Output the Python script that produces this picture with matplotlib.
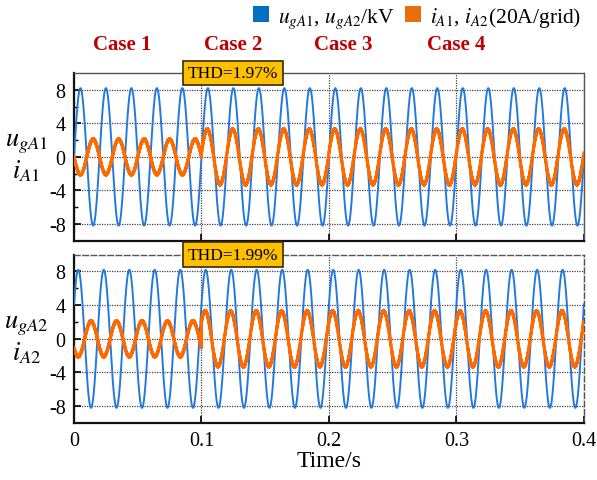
import numpy as np
import matplotlib
matplotlib.use('Agg')
import matplotlib.pyplot as plt
from matplotlib.patches import Patch
from matplotlib.transforms import blended_transform_factory

plt.rcParams['font.family'] = ['Liberation Serif', 'DejaVu Serif']
plt.rcParams['mathtext.fontset'] = 'stix'
plt.rcParams['axes.unicode_minus'] = False

# values
case_edges = [0.0, 0.1, 0.2, 0.3, 0.4]
case_names = ['Case 1', 'Case 2', 'Case 3', 'Case 4']
case_label_x = [0.038, 0.125, 0.211, 0.300]
grid_freq = 50.0
u_amp = 8.2                      # kV
u_phase = [0.0, 30.0]            # deg, phase A1 / A2
i_amp = [2.1, 3.3, 3.3, 3.3]     # per case (20A/grid)
i_shift = [180.0, 8.0, 8.0, 8.0] # deg, current vs voltage per case
ripple_amp = 0.07
ripple_freq = 5000.0
thd_text = ['THD=1.97%', 'THD=1.99%']
thd_x = 0.1247
ylabels = ['$u_{gA1}$\n$i_{A1}$', '$u_{gA2}$\n$i_{A2}$']
xticks = [0, 0.1, 0.2, 0.3, 0.4]
xticklabels = ['0', '0.1', '0.2', '0.3', '0.4']
yticks = [-8, -4, 0, 4, 8]
yticklabels = ['-8', '-4', '0', '4', '8']

blue = '#2479DE'
orange = '#FF6A00'

t = np.linspace(0, 0.4, 24001)
w = 2*np.pi*grid_freq

fig = plt.figure(figsize=(5.97, 4.81), dpi=100)
ax1 = fig.add_axes([0.124, 0.4975, 0.854, 0.3486])
ax2 = fig.add_axes([0.124, 0.1185, 0.854, 0.35])
axes = [ax1, ax2]

for k, ax in enumerate(axes):
    ph = np.deg2rad(u_phase[k])
    u = u_amp*np.sin(w*t + ph)
    cur = np.zeros_like(t)
    for c in range(4):
        m = (t >= case_edges[c]) & (t <= case_edges[c+1])
        cur[m] = i_amp[c]*np.sin(w*t[m] + ph + np.deg2rad(i_shift[c]))
    cur = cur + ripple_amp*np.sin(2*np.pi*ripple_freq*t)

    ax.plot(t, u, color=blue, lw=1.4, zorder=3)
    ax.plot(t, cur, color=orange, lw=2.2, zorder=4)

    ax.set_xlim(0, 0.4)
    ax.set_ylim(-10, 10)
    ax.set_xticks(xticks)
    ax.set_yticks(yticks)
    ax.set_yticklabels(yticklabels)
    ax.set_yticks([-6, -2, 2, 6], minor=True)
    ax.grid(True, which='major', linestyle=(0, (1, 1)), color='#444444', lw=0.9)
    ax.tick_params(direction='in', length=5, width=1.2, labelsize=14.5, pad=6)
    ax.tick_params(which='minor', direction='in', length=3, width=1.0)
    for s in ['left', 'bottom']:
        ax.spines[s].set_linewidth(1.6)
        ax.spines[s].set_color('#111111')
    for s in ['top', 'right']:
        ax.spines[s].set_color('#555555')
        ax.spines[s].set_linewidth(1.0)
        if k == 0:
            ax.spines[s].set_linestyle((0, (1, 1)))
        else:
            ax.spines[s].set_linestyle((0, (4, 2)))

    ax.text(thd_x, 10.0, thd_text[k], ha='center', va='center', fontsize=12.5,
            zorder=10,
            bbox=dict(boxstyle='square,pad=0.25', fc='#FFC000', ec='#3a2a00', lw=1.2))

    fig.text(0.044, 0.5, ylabels[k], ha='center', va='center', fontsize=19,
             linespacing=1.1,
             transform=blended_transform_factory(fig.transFigure, ax.transAxes))

ax1.set_xticklabels([])
ax2.set_xticklabels(xticklabels)
ax2.set_xlabel('Time/s', fontsize=17, labelpad=0)

for name, x in zip(case_names, case_label_x):
    ax1.text(x, 1.173, name, transform=ax1.get_xaxis_transform(), ha='center', va='center',
             fontsize=15, fontweight='bold', color='#C00000')

handles = [Patch(facecolor='#0070C0', edgecolor='none'), Patch(facecolor='#E8700C', edgecolor='none')]
labels = ['$u_{gA1}$, $u_{gA2}$/kV', '$i_{A1}$, $i_{A2}$(20A/grid)']
fig.legend(handles, labels, loc='upper right', bbox_to_anchor=(0.995, 1.015), ncol=2,
           frameon=False, fontsize=15.5, handlelength=0.75, handleheight=0.75,
           handletextpad=0.4, columnspacing=0.5, borderaxespad=0.2)

fig.savefig('out.png', dpi=100)
